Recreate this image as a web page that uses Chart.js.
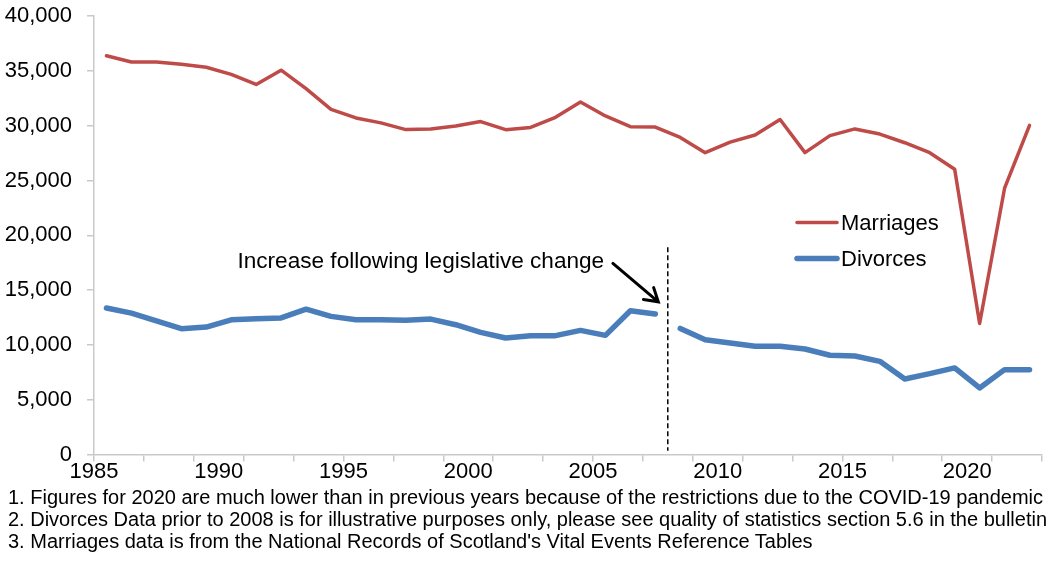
<!DOCTYPE html>
<html>
<head>
<meta charset="utf-8">
<script src="https://cdn.jsdelivr.net/npm/chart.js@4.4.1/dist/chart.umd.min.js"></script>
<style>
  body { margin: 0; background: #fff; }
  #wrap { position: relative; width: 1058px; height: 575px; }
  .note {
    position: absolute;
    left: 8px;
    font-family: "Liberation Sans", Arial, sans-serif;
    font-size: 20px;
    line-height: 22px;
    color: #000;
    white-space: nowrap;
  }
</style>
</head>
<body>
<div id="wrap">
  <canvas id="chart"></canvas>
  <div class="note" style="top:486px">1. Figures for 2020 are much lower than in previous years because of the restrictions due to the COVID-19 pandemic</div>
  <div class="note" style="top:508px">2. Divorces Data prior to 2008 is for illustrative purposes only, please see quality of statistics section 5.6 in the bulletin</div>
  <div class="note" style="top:530px">3. Marriages data is from the National Records of Scotland's Vital Events Reference Tables</div>
</div>
<script>
const years = [1985, 1986, 1987, 1988, 1989, 1990, 1991, 1992, 1993, 1994,
  1995, 1996, 1997, 1998, 1999, 2000, 2001, 2002, 2003, 2004,
  2005, 2006, 2007, 2008, 2009, 2010, 2011, 2012, 2013, 2014,
  2015, 2016, 2017, 2018, 2019, 2020, 2021, 2022];

const marriages = [36370, 35800, 35810, 35600, 35330, 34680, 33760, 35060, 33380, 31490,
  30700, 30250, 29640, 29690, 29960, 30370, 29630, 29830, 30760, 32160,
  30880, 29900, 29870, 28920, 27530, 28500, 29140, 30560, 27540, 29090,
  29700, 29230, 28440, 27530, 26020, 11950, 24290, 30020];

const divorces = [13360, 12900, 12200, 11480, 11620, 12290, 12390, 12460, 13260, 12600,
  12300, 12290, 12240, 12350, 11840, 11140, 10630, 10840, 10840, 11320,
  10870, 13110, 12810, 11500, 10470, 10170, 9870, 9870, 9620, 9050,
  8990, 8500, 6890, 7380, 7900, 6070, 7740, 7740];

const yTicks = [0, 5000, 10000, 15000, 20000, 25000, 30000, 35000, 40000];
const xLabelEvery = 5;
const gapAfterYear = 2007; // divorces line broken at the change in legislation
const changeLine = 2007.5;
const noteText = "Increase following legislative change";

const font = '"Liberation Sans", Arial, sans-serif';
const axisGrey = "#c9c9c9";
const red = "#be4b48";
const blue = "#4a7ebb";

const toXY = (vals) => years.map((yr, i) => ({ x: yr, y: vals[i] }));

// half-year tick positions: marks every 2 years, labels every 5 years
const halfTicks = [];
for (let v = years[0] - 0.5; v <= years[years.length - 1] + 0.5; v += 1) halfTicks.push(v);

const insideLegend = {
  id: "insideLegend",
  afterDraw(chart) {
    const ctx = chart.ctx;
    const x0 = 797;
    const rows = [222.5, 258.5];
    ctx.save();
    ctx.font = "22px " + font;
    ctx.textBaseline = "middle";
    ctx.fillStyle = "#000";
    chart.data.datasets.forEach((ds, i) => {
      ctx.strokeStyle = ds.borderColor;
      ctx.lineWidth = ds.borderWidth;
      ctx.lineCap = "round";
      ctx.beginPath();
      ctx.moveTo(x0, rows[i]);
      ctx.lineTo(x0 + 40, rows[i]);
      ctx.stroke();
      ctx.fillText(ds.label, x0 + 44, rows[i] + 1);
    });
    ctx.restore();
  },
};

const changeNote = {
  id: "changeNote",
  afterDatasetsDraw(chart) {
    const { ctx, scales: { x, y } } = chart;
    ctx.save();
    // dashed divider
    ctx.strokeStyle = "#000";
    ctx.lineWidth = 1.5;
    ctx.setLineDash([5, 3]);
    ctx.beginPath();
    ctx.moveTo(x.getPixelForValue(changeLine), y.getPixelForValue(18900));
    ctx.lineTo(x.getPixelForValue(changeLine), y.getPixelForValue(350));
    ctx.stroke();
    ctx.setLineDash([]);

    // label
    ctx.font = "22.6px " + font;
    ctx.fillStyle = "#000";
    ctx.textAlign = "right";
    ctx.textBaseline = "middle";
    ctx.fillText(noteText, x.getPixelForValue(2004.95), y.getPixelForValue(17600));

    // arrow
    const x1 = x.getPixelForValue(2005.3), y1 = y.getPixelForValue(17430);
    const x2 = x.getPixelForValue(2007.12), y2 = y.getPixelForValue(13930);
    const ang = Math.atan2(y2 - y1, x2 - x1);
    ctx.lineWidth = 3;
    ctx.lineCap = "round";
    ctx.beginPath();
    ctx.moveTo(x1, y1);
    ctx.lineTo(x2, y2);
    ctx.moveTo(x2 - 15 * Math.cos(ang - 0.55), y2 - 15 * Math.sin(ang - 0.55));
    ctx.lineTo(x2, y2);
    ctx.lineTo(x2 - 15 * Math.cos(ang + 0.55), y2 - 15 * Math.sin(ang + 0.55));
    ctx.stroke();
    ctx.restore();
  },
};

new Chart(document.getElementById("chart"), {
  type: "line",
  data: {
    datasets: [
      {
        label: "Marriages",
        data: toXY(marriages),
        borderColor: red,
        backgroundColor: red,
        borderWidth: 3.5,
        pointRadius: 0,
        borderJoinStyle: "round",
        borderCapStyle: "round",
      },
      {
        label: "Divorces",
        data: toXY(divorces),
        borderColor: blue,
        backgroundColor: blue,
        borderWidth: 5.5,
        pointRadius: 0,
        borderJoinStyle: "round",
        borderCapStyle: "round",
        segment: {
          borderColor: (c) => (c.p0.parsed.x === gapAfterYear ? "rgba(0,0,0,0)" : undefined),
        },
      },
    ],
  },
  options: {
    responsive: true,
    maintainAspectRatio: false,
    animation: false,
    events: [],
    layout: { padding: { left: 0, right: 16, top: 16, bottom: 0 } },
    plugins: { legend: { display: false }, tooltip: { enabled: false } },
    scales: {
      x: {
        type: "linear",
        min: halfTicks[0],
        max: halfTicks[halfTicks.length - 1],
        afterBuildTicks: (s) => { s.ticks = halfTicks.map((v) => ({ value: v })); },
        afterFit: (s) => { s.height = 120.5; },
        border: { color: axisGrey, width: 1.5 },
        grid: {
          drawOnChartArea: false,
          tickLength: 7,
          lineWidth: 1.5,
          color: (c) => (c.index % 2 === 0 ? axisGrey : "rgba(0,0,0,0)"),
        },
        ticks: {
          autoSkip: false,
          maxRotation: 0,
          padding: -3,
          color: "#000",
          font: { family: font, size: 22 },
          callback: (v) => ((v + 0.5) % xLabelEvery === 0 ? String(v + 0.5) : ""),
        },
      },
      y: {
        min: 0,
        max: 40000,
        afterBuildTicks: (s) => { s.ticks = yTicks.map((v) => ({ value: v })); },
        afterFit: (s) => { s.width = 94; s.paddingTop = 0; s.paddingBottom = 0; },
        border: { color: axisGrey, width: 1.5 },
        grid: { drawOnChartArea: false, tickLength: 7, lineWidth: 1.5, color: axisGrey },
        ticks: {
          padding: 15,
          color: "#000",
          font: { family: font, size: 22 },
          callback: (v) => v.toLocaleString("en-GB"),
        },
      },
    },
  },
  plugins: [insideLegend, changeNote],
});
</script>
</body>
</html>
